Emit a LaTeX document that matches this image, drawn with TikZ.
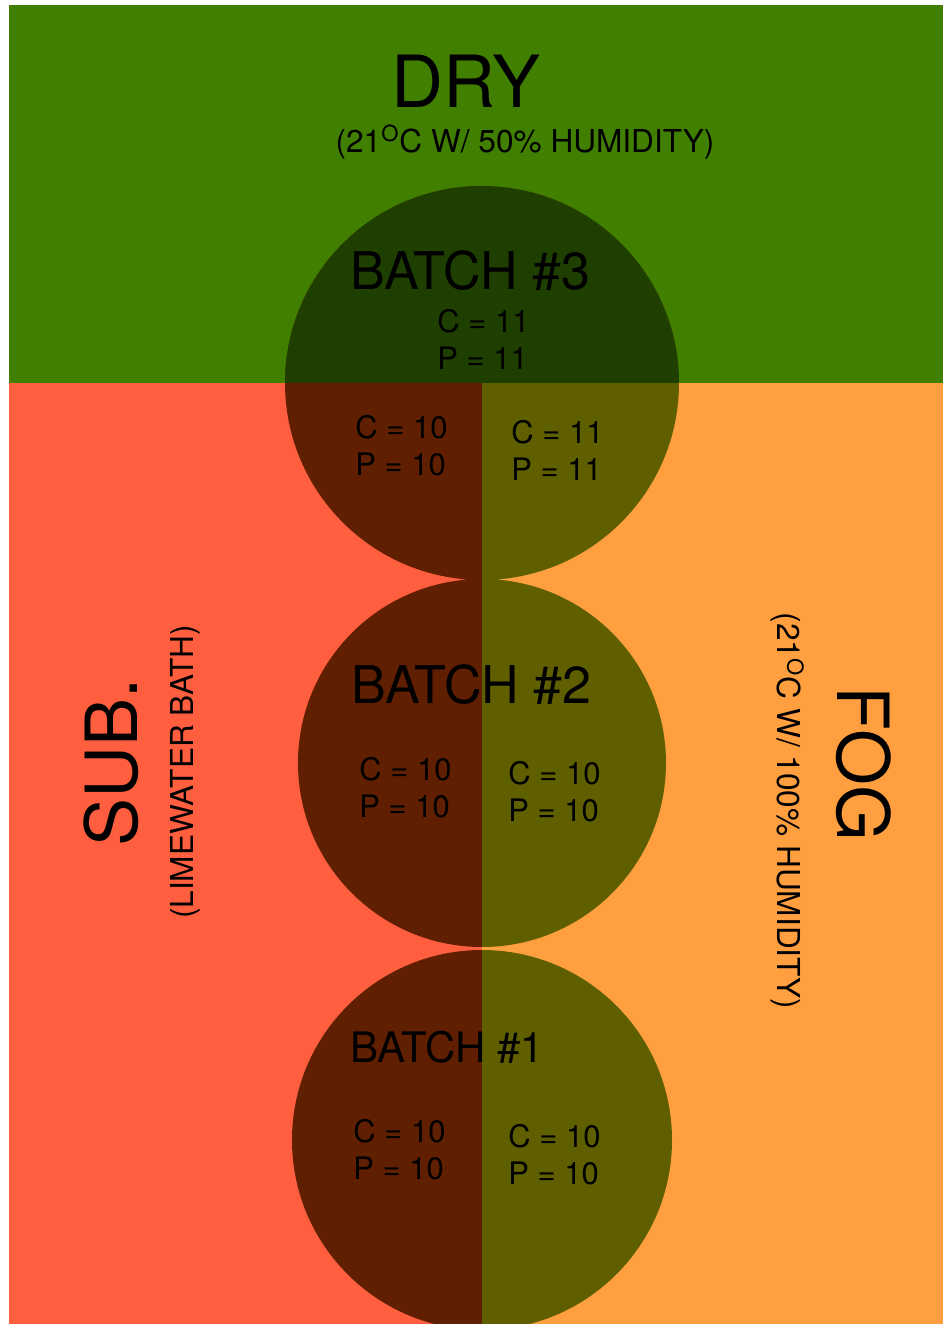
\documentclass[tikz,border=0pt]{standalone}
\usepackage{fontspec}
\setmainfont{TeX Gyre Heros}
\usepackage{tikz}
\usetikzlibrary{positioning}

\definecolor{dry}{RGB}{64,127,0}
\definecolor{sub}{RGB}{255,95,63}
\definecolor{fog}{RGB}{255,159,63}
\definecolor{drydark}{RGB}{31,63,0}
\definecolor{subdark}{RGB}{95,31,0}
\definecolor{fogdark}{RGB}{95,95,0}

\tikzset{
	every node/.style={inner sep=0pt, text=black},
	title/.style={font=\fontsize{36}{36}\selectfont},
	subtitle/.style={font=\fontsize{15.8}{16}\selectfont},
	batch/.style={font=\fontsize{26}{26}\selectfont, anchor=base west},
	count/.style={font=\fontsize{15.5}{15.5}\selectfont, anchor=base west}
}

\begin{document}
\begin{tikzpicture}[y=-0.5pt,x=0.5pt]
	\newcommand\Deg{\textsuperscript{O}}
	\newcommand\CP[5]{%
		\node[count] (c#1) at (#2,#3) {C = #4};
		\node[count] (p#1) at (#2,#3+37) {P = #5};}

	\useasboundingbox (0,0) rectangle (943,1324);
	\fill[white] (0,0) rectangle (943,1324);

	% the three rooms
	\fill[dry] (9,5) rectangle (943,383);
	\fill[sub] (9,383) rectangle (482,1324);
	\fill[fog] (482,383) rectangle (943,1324);

	% the three batches
	\begin{scope}
		\clip (482,383) circle (197) (482,763) circle (184) (482,1140) circle (190);
		\fill[subdark] (9,0) rectangle (482,1324);
		\fill[fogdark] (482,0) rectangle (943,1324);
		\fill[drydark] (9,0) rectangle (943,383);
	\end{scope}

	% room labels
	\node[title, anchor=base] (dry) at (466,107) {DRY};
	\node[subtitle, anchor=base] (drynote) at (525,152) {(21\Deg C W/ 50\% HUMIDITY)};
	\node[title, anchor=base, rotate=90] (sub) at (137,762) {SUB.};
	\node[subtitle, anchor=base, rotate=90] (subnote) at (193,772) {(LIMEWATER BATH)};
	\node[title, anchor=base, rotate=-90] (fog) at (837,764) {FOG};
	\node[subtitle, anchor=base, rotate=-90] (fognote) at (777,811) {(21\Deg C W/ 100\% HUMIDITY)};

	% batch 3
	\node[batch] (batch3) at (350,289) {BATCH \#3};
	\CP{3d}{437}{332}{11}{11}
	\CP{3s}{355}{438}{10}{10}
	\CP{3f}{511}{443}{11}{11}

	% batch 2
	\node[batch] (batch2) at (351,703) {BATCH \#2};
	\CP{2s}{359}{780}{10}{10}
	\CP{2f}{508}{784}{10}{10}

	% batch 1
	\node[batch, font=\fontsize{21}{21}\selectfont] (batch1) at (350,1062) {BATCH \#1};
	\CP{1s}{353}{1142}{10}{10}
	\CP{1f}{508}{1147}{10}{10}
\end{tikzpicture}
\end{document}
